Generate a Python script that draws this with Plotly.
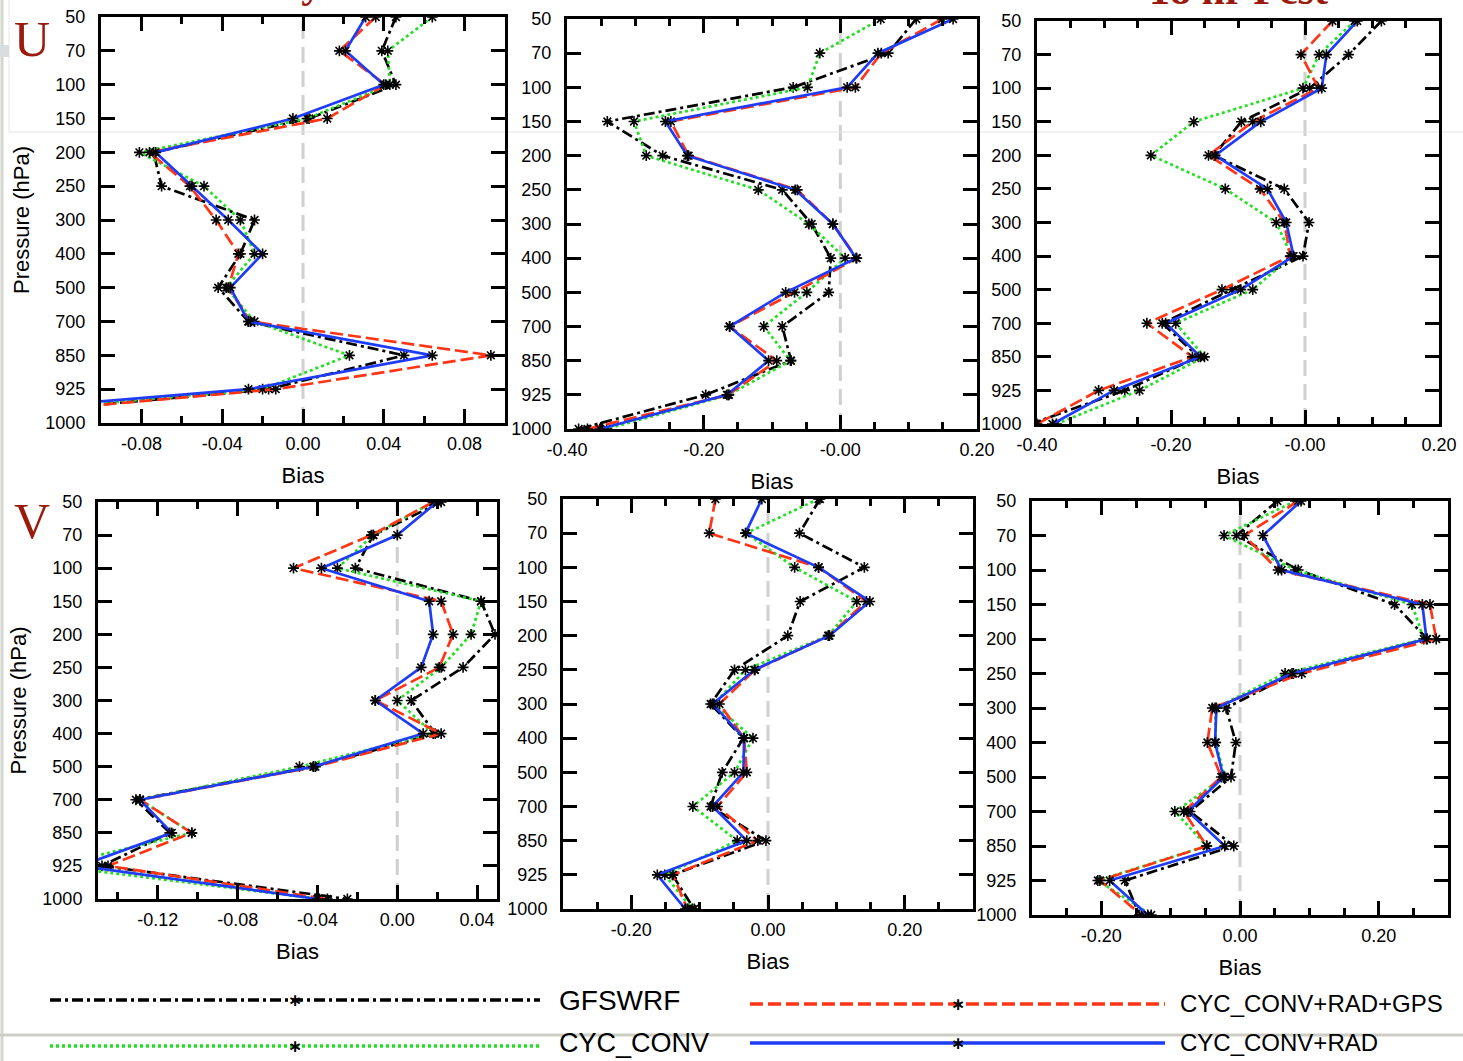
import plotly.graph_objects as go

W, H = 1463, 1061

levels = ["50", "70", "100", "150", "200", "250", "300", "400", "500", "700", "850", "925", "1000"]
series_names = ["GFSWRF", "CYC_CONV", "CYC_CONV+RAD+GPS", "CYC_CONV+RAD"]

# ---- U bias, column 1 ----
u1_gfswrf = [0.046, 0.039, 0.046, 0.003, -0.074, -0.070, -0.024, -0.031, -0.042, -0.027, 0.050, -0.017, -0.20]
u1_conv = [0.064, 0.042, 0.043, 0.002, -0.081, -0.049, -0.031, -0.024, -0.038, -0.024, 0.023, -0.020, -0.21]
u1_gps = [0.036, 0.018, 0.041, 0.012, -0.076, -0.056, -0.043, -0.032, -0.037, -0.026, 0.093, -0.0135, -0.20]
u1_rad = [0.031, 0.021, 0.040, -0.005, -0.073, -0.055, -0.037, -0.020, -0.036, -0.027, 0.064, -0.027, -0.23]

# ---- U bias, column 2 ----
u2_gfswrf = [0.111, 0.070, -0.069, -0.341, -0.260, -0.085, -0.042, -0.014, -0.017, -0.085, -0.072, -0.197, -0.383]
u2_conv = [0.059, -0.030, -0.048, -0.302, -0.284, -0.120, -0.046, 0.007, -0.049, -0.112, -0.073, -0.163, -0.342]
u2_gps = [0.149, 0.060, 0.022, -0.248, -0.222, -0.063, -0.011, 0.024, -0.067, -0.162, -0.093, -0.164, -0.370]
u2_rad = [0.165, 0.055, 0.010, -0.256, -0.224, -0.066, -0.011, 0.023, -0.080, -0.162, -0.105, -0.166, -0.352]

# ---- U bias, column 3 ----
u3_gfswrf = [0.114, 0.065, 0.007, -0.095, -0.136, -0.031, 0.006, -0.003, -0.109, -0.213, -0.159, -0.269, -0.41]
u3_conv = [0.074, 0.021, -0.003, -0.166, -0.230, -0.119, -0.043, -0.020, -0.078, -0.193, -0.150, -0.247, -0.371]
u3_gps = [0.041, -0.006, 0.020, -0.078, -0.144, -0.067, -0.031, -0.022, -0.124, -0.236, -0.168, -0.308, -0.40]
u3_rad = [0.078, 0.032, 0.025, -0.066, -0.134, -0.056, -0.028, -0.017, -0.096, -0.208, -0.156, -0.285, -0.377]

# ---- V bias, column 1 ----
v1_gfswrf = [0.022, -0.012, -0.021, 0.042, 0.049, 0.033, 0.007, 0.019, -0.042, -0.131, -0.114, -0.148, -0.025]
v1_conv = [0.018, -0.012, -0.030, 0.042, 0.037, 0.022, 0.000, 0.018, -0.049, -0.129, -0.103, -0.172, -0.039]
v1_gps = [0.018, -0.013, -0.052, 0.022, 0.028, 0.021, -0.011, 0.022, -0.041, -0.129, -0.103, -0.145, -0.035]
v1_rad = [0.020, 0.000, -0.038, 0.016, 0.018, 0.012, -0.011, 0.013, -0.042, -0.129, -0.113, -0.159, -0.040]

# ---- V bias, column 2 ----
v2_gfswrf = [0.076, 0.046, 0.141, 0.047, 0.029, -0.049, -0.084, -0.036, -0.067, -0.084, -0.003, -0.140, -0.108]
v2_conv = [0.074, -0.032, 0.039, 0.130, 0.088, -0.033, -0.079, -0.022, -0.049, -0.110, -0.045, -0.151, -0.111]
v2_gps = [-0.077, -0.086, 0.074, 0.144, 0.089, -0.019, -0.071, -0.035, -0.031, -0.074, -0.015, -0.139, -0.118]
v2_rad = [-0.009, -0.033, 0.074, 0.149, 0.090, -0.020, -0.081, -0.035, -0.036, -0.081, -0.031, -0.162, -0.121]

# ---- V bias, column 3 ----
v3_gfswrf = [0.054, -0.005, 0.084, 0.223, 0.270, 0.077, -0.020, -0.006, -0.013, -0.072, -0.009, -0.166, -0.145]
v3_conv = [0.080, -0.023, 0.080, 0.248, 0.265, 0.065, -0.036, -0.035, -0.022, -0.094, -0.048, -0.205, -0.128]
v3_gps = [0.084, 0.006, 0.055, 0.274, 0.283, 0.089, -0.040, -0.047, -0.027, -0.081, -0.048, -0.202, -0.142]
v3_rad = [0.088, 0.033, 0.060, 0.263, 0.269, 0.075, -0.034, -0.036, -0.024, -0.075, -0.022, -0.188, -0.133]

# tick labels
ticks_small_vals = [-0.08, -0.04, 0.0, 0.04, 0.08]
ticks_small_text = ["-0.08", "-0.04", "0.00", "0.04", "0.08"]
ticks_big_vals = [-0.4, -0.2, 0.0, 0.2]
ticks_big_text = ["-0.40", "-0.20", "-0.00", "0.20"]
ticks_v1_vals = [-0.12, -0.08, -0.04, 0.0, 0.04]
ticks_v1_text = ["-0.12", "-0.08", "-0.04", "0.00", "0.04"]
ticks_v2_vals = [-0.2, 0.0, 0.2]
ticks_v2_text = ["-0.20", "0.00", "0.20"]

colors = {"GFSWRF": "#000000", "CYC_CONV": "#22e022", "CYC_CONV+RAD+GPS": "#ff3515", "CYC_CONV+RAD": "#1e3cf5"}
dashes = {"GFSWRF": "11px,4px,3px,4px", "CYC_CONV": "3px,3px", "CYC_CONV+RAD+GPS": "13px,5px", "CYC_CONV+RAD": "solid"}

# panel layout in pixels: (left, right, top, bottom)
panels = [
    dict(data=[u1_gfswrf, u1_conv, u1_gps, u1_rad], box=(101, 505, 17, 423), rng=[-0.1, 0.1],
         tv=ticks_small_vals, tt=ticks_small_text, minor=0.02, ytitle=True),
    dict(data=[u2_gfswrf, u2_conv, u2_gps, u2_rad], box=(567, 977, 19, 429), rng=[-0.4, 0.2],
         tv=ticks_big_vals, tt=ticks_big_text, minor=0.05, ytitle=False),
    dict(data=[u3_gfswrf, u3_conv, u3_gps, u3_rad], box=(1037, 1439, 21, 424), rng=[-0.4, 0.2],
         tv=ticks_big_vals, tt=ticks_big_text, minor=0.05, ytitle=False),
    dict(data=[v1_gfswrf, v1_conv, v1_gps, v1_rad], box=(98, 497, 502, 899), rng=[-0.15, 0.05],
         tv=ticks_v1_vals, tt=ticks_v1_text, minor=0.02, ytitle=True),
    dict(data=[v2_gfswrf, v2_conv, v2_gps, v2_rad], box=(563, 973, 499, 909), rng=[-0.3, 0.3],
         tv=ticks_v2_vals, tt=ticks_v2_text, minor=0.05, ytitle=False),
    dict(data=[v3_gfswrf, v3_conv, v3_gps, v3_rad], box=(1032, 1448, 501, 915), rng=[-0.3, 0.3],
         tv=ticks_v2_vals, tt=ticks_v2_text, minor=0.05, ytitle=False),
]

def px(x):
    return x / W

def py(y):
    return 1 - y / H

fig = go.Figure()
layout = dict(width=W, height=H, margin=dict(l=0, r=0, t=0, b=0, autoexpand=False),
              paper_bgcolor="white", plot_bgcolor="white", showlegend=False,
              font=dict(family="Liberation Sans, Arial, sans-serif", color="black", size=18))

draw_order = [0, 1, 2, 3]
for i, p in enumerate(panels):
    n = "" if i == 0 else str(i + 1)
    xr, yr = "x" + n, "y" + n
    for k in draw_order:
        name = series_names[k]
        fig.add_trace(go.Scatter(
            x=p["data"][k], y=levels, xaxis=xr, yaxis=yr, name=name, mode="lines+markers",
            line=dict(color=colors[name], width=2.7, dash=dashes[name]),
            marker=dict(symbol="asterisk-open", size=9, color="black", line=dict(color="black", width=1.6)),
        ))
    l, r, t, b = p["box"]
    layout["xaxis" + n] = dict(
        domain=[px(l), px(r)], anchor=yr, range=p["rng"], showgrid=False, zeroline=False, automargin=False,
        showline=True, linewidth=3, linecolor="black", mirror="allticks",
        ticks="inside", ticklen=14, tickwidth=3, tickcolor="black",
        tickmode="array", tickvals=p["tv"], ticktext=p["tt"], ticklabelstandoff=2,
        minor=dict(ticks="inside", ticklen=7, tickwidth=2.5, tickcolor="black", dtick=p["minor"], tick0=0, showgrid=False),
        title=dict(text="Bias", font=dict(size=22), standoff=16),
        tickfont=dict(size=18),
    )
    ydict = dict(
        domain=[py(b), py(t)], anchor=xr, type="category", categoryorder="array", categoryarray=levels,
        range=[len(levels) - 1, 0], showgrid=False, zeroline=False, automargin=False,
        showline=True, linewidth=3, linecolor="black", mirror="allticks",
        ticks="inside", ticklen=14, tickwidth=3, tickcolor="black", ticklabelstandoff=9,
        tickfont=dict(size=18),
    )
    if p["ytitle"]:
        ydict["title"] = dict(text="Pressure (hPa)", font=dict(size=22), standoff=10)
    layout["yaxis" + n] = ydict

fig.update_layout(**layout)

shapes = []
# zero reference lines
for i, p in enumerate(panels):
    n = "" if i == 0 else str(i + 1)
    shapes.append(dict(type="line", xref="x" + n, yref="y" + n + " domain", x0=0, x1=0, y0=0, y1=1,
                       line=dict(color="#d0d0d0", width=3, dash="16px,8px"), layer="below"))

# screenshot frame artifacts
art = "#d4d6d0"
shapes += [
    dict(type="line", xref="paper", yref="paper", x0=px(2), x1=px(2), y0=0, y1=1, line=dict(color=art, width=3), layer="below"),
    dict(type="line", xref="paper", yref="paper", x0=px(9), x1=px(9), y0=py(0), y1=py(132), line=dict(color="#e6e6e6", width=1), layer="below"),
    dict(type="line", xref="paper", yref="paper", x0=px(9), x1=1, y0=py(132), y1=py(132), line=dict(color="#e4e4e4", width=1), layer="below"),
    dict(type="rect", xref="paper", yref="paper", x0=0, x1=px(9), y0=py(57), y1=py(45), line=dict(width=0), fillcolor="#d8dde0", layer="below"),
    dict(type="line", xref="paper", yref="paper", x0=0, x1=1, y0=py(1035), y1=py(1035), line=dict(color="#cdcdc6", width=3), layer="below"),
]

# legend lines
legend_rows = [
    ("GFSWRF", 50, 540, 1000, 557, 28, 1000),
    ("CYC_CONV", 50, 540, 1046, 557, 27, 1043),
    ("CYC_CONV+RAD+GPS", 750, 1165, 1004, 1178, 24, 1003),
    ("CYC_CONV+RAD", 750, 1165, 1043, 1178, 24, 1042),
]
annotations = []
for name, x0, x1, yy, tx, fs, ty in legend_rows:
    shapes.append(dict(type="line", xref="paper", yref="paper", x0=px(x0), x1=px(x1), y0=py(yy), y1=py(yy),
                       line=dict(color=colors[name], width=3.5, dash=dashes[name])))
    annotations.append(dict(xref="paper", yref="paper", x=px((x0 + x1) / 2), y=py(yy), text="<b>∗</b>",
                            showarrow=False, font=dict(size=17, color="black", family="DejaVu Sans"),
                            xanchor="center", yanchor="middle"))
    annotations.append(dict(xref="paper", yref="paper", x=px(tx), y=py(ty), text=name, showarrow=False,
                            font=dict(size=fs, color="black"), xanchor="left", yanchor="middle"))

# row labels and (cut-off) column titles
dark_red = "#9a1a0c"
annotations += [
    dict(xref="paper", yref="paper", x=px(32), y=py(39), text="U", showarrow=False,
         font=dict(size=50, color=dark_red, family="Liberation Serif, Times New Roman, serif"), xanchor="center", yanchor="middle"),
    dict(xref="paper", yref="paper", x=px(32), y=py(521), text="V", showarrow=False,
         font=dict(size=50, color=dark_red, family="Liberation Serif, Times New Roman, serif"), xanchor="center", yanchor="middle"),
    dict(xref="paper", yref="paper", x=px(291), y=py(-17), text="<b>Analysis</b>", showarrow=False,
         font=dict(size=42, color=dark_red, family="Liberation Serif, Times New Roman, serif"), xanchor="center", yanchor="middle"),
    dict(xref="paper", yref="paper", x=px(1238), y=py(-10), text="<b>18 hr Fcst</b>", showarrow=False,
         font=dict(size=42, color=dark_red, family="Liberation Serif, Times New Roman, serif"), xanchor="center", yanchor="middle"),
]

fig.update_layout(shapes=shapes, annotations=annotations)
fig.write_html("out.html", config={"displayModeBar": False},
               post_script="document.body.style.margin='0px';document.body.style.overflow='hidden';")
